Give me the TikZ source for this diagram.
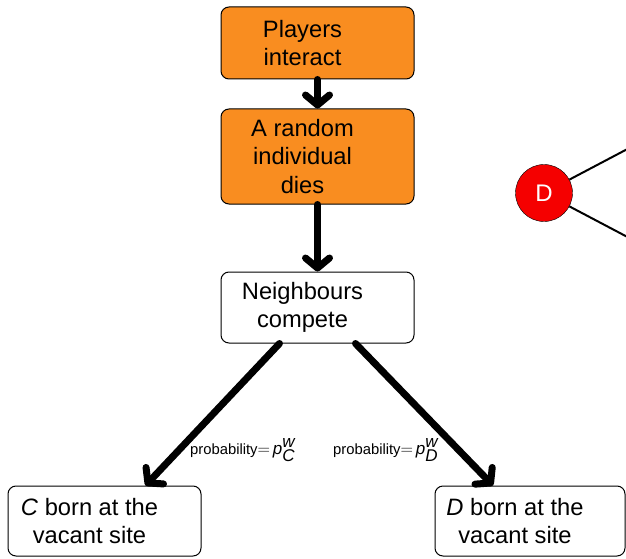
\documentclass[tikz,border=0pt]{standalone}
\usepackage{fontspec}
\setmainfont{Liberation Sans}
\usetikzlibrary{arrows.meta}
\definecolor{boxorange}{RGB}{249,141,32}
\definecolor{dred}{RGB}{245,0,0}

\newcommand{\probof}[1]{probability{\fontsize{17}{20}\selectfont$=$\,\textit{p}$^{\textit{w}}_{\textit{#1}}$}}

\begin{document}
\begin{tikzpicture}[x=1pt, y=1pt,
  box/.style={draw, rounded corners=8pt, line width=1pt, minimum width=193pt, minimum height=72pt},
  hot/.style={box, fill=boxorange},
  words/.style={align=center, font=\fontsize{23.7}{28.5}\selectfont, xshift=-15pt},
  small/.style={font=\fontsize{14.8}{18}\selectfont, anchor=base west, inner sep=0pt},
  flow/.style={line width=7pt, line cap=round, -{Straight Barb[length=10pt, width=24pt, line cap=round, line join=round]}}]

\clip (0,0) rectangle (626,558);

%steps
\node[hot, label={[words]center:Players\\interact}] (players) at (317.5,515) {};
\node[hot, minimum height=95pt, label={[words]center:A random\\individual\\dies}] (dies) at (317.5,401.5) {};
\node[box, minimum height=71pt, label={[words]center:Neighbours\\compete}] (compete) at (317.5,250.5) {};
\node[box, minimum height=70pt, label={[words]center:\textit{C} born at the\\vacant site}] (cborn) at (104.5,37) {};
\node[box, minimum width=190pt, minimum height=70pt, label={[words]center:\textit{D} born at the\\vacant site}] (dborn) at (530,37) {};

%arrows
\draw[flow] (players) -- (dies);
\draw[flow] (dies) -- (compete);
\draw[flow] ([xshift=-38pt]compete.south) -- ([xshift=41pt]cborn.north);
\draw[flow] ([xshift=38pt]compete.south) -- ([xshift=-37pt]dborn.north);

\node[small] (pc) at (190,104) {\probof{C}};
\node[small] (pd) at (333,104) {\probof{D}};

%defector
\node[circle, draw, fill=dred, minimum size=57pt, inner sep=0pt, text=white, font=\fontsize{24}{28}\selectfont] (dnode) at (544,365) {D};
\coordinate (dup) at (654,423);
\coordinate (ddown) at (654,307);
\draw[line width=2pt] (dnode) -- (dup);
\draw[line width=2pt] (dnode) -- (ddown);

\end{tikzpicture}
\end{document}
